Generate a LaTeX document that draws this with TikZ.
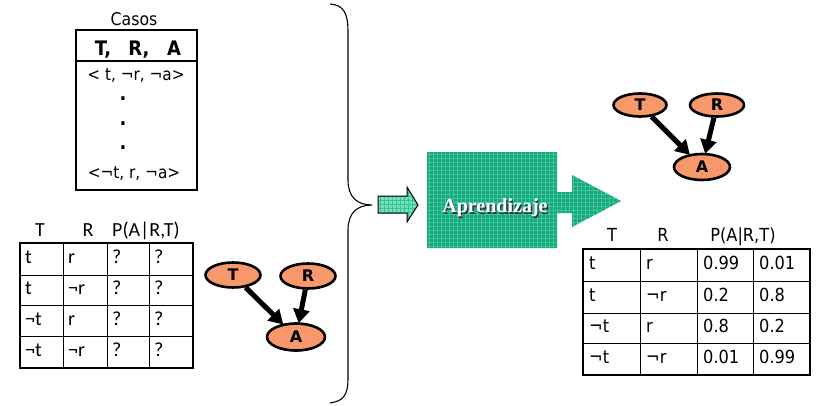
\documentclass[tikz,border=0pt]{standalone}
\usepackage{fontspec}
\setmainfont{DejaVu Sans Condensed}
\newfontfamily\calfont{Carlito}
\newfontfamily\titlefont{Liberation Serif}
\newfontfamily\widefont{DejaVu Sans}
\usetikzlibrary{shapes.geometric,arrows.meta}
\definecolor{nodefill}{RGB}{247,152,108}
\definecolor{boxteal}{RGB}{24,168,126}
\definecolor{boxgrid}{RGB}{62,196,156}
\definecolor{mint}{RGB}{110,228,184}
\definecolor{mintgrid}{RGB}{64,190,148}
\tikzset{
  var/.style={ellipse, draw, line width=2.6pt, fill=nodefill, minimum width=55pt,
    minimum height=25pt, inner sep=0pt, font=\widefont\fontsize{16}{18}\selectfont\bfseries},
  dep/.style={line width=5pt, -{Triangle[length=14pt,width=16pt]}, shorten >=-1pt},
  lcell/.style={anchor=west, inner sep=0pt, text height=13pt, text depth=4pt,
    font=\calfont\fontsize{20}{22}\selectfont},
  rcell/.style={anchor=west, inner sep=0pt, text height=13pt, text depth=4pt,
    font=\fontsize{18}{20}\selectfont},
  casetxt/.style={inner sep=0pt, font=\fontsize{17}{19}\selectfont},
  headtxt/.style={inner sep=0pt, font=\fontsize{20}{22}\selectfont\bfseries},
}
\begin{document}
\begin{tikzpicture}[x=1pt,y=-1pt]
\useasboundingbox (0,0) rectangle (820,405);
\fill[white] (0,0) rectangle (820,405);

% ---- table of cases ----
\node[casetxt, font=\fontsize{17.5}{19}\selectfont] (casos) at (134,19) {Casos};
\draw[line width=1.4pt] (76,30) rectangle (197,190);
\draw[line width=1.1pt] (76,61) -- (197,61);
\node[headtxt, anchor=base] (hT) at (103,55) {T,};
\node[headtxt, anchor=base] (hR) at (139,55) {R,};
\node[headtxt, anchor=base] (hA) at (174,55) {A};
\node[casetxt] (c1) at (136,76) {< t, ¬r, ¬a>};
\node[headtxt] (d1) at (123,99) {.};
\node[headtxt] (d2) at (123,124) {.};
\node[headtxt] (d3) at (123,148) {.};
\node[casetxt] (c2) at (134,174) {<¬t, r, ¬a>};

% ---- empty CPT (left) ----
\node[lcell, anchor=center] (lhT) at (40,232) {T};
\node[lcell, anchor=center] (lhR) at (88,232) {R};
\node[lcell, anchor=center] (lhP) at (146,232) {P(A|R,T)};
\draw[line width=0.9pt] (63,243) -- (63,368) (107,243) -- (107,368) (149,243) -- (149,368)
  (20,275) -- (193,275) (20,305) -- (193,305) (20,336) -- (193,336);
\draw[line width=2.4pt] (20,243) rectangle (193,368);
\foreach \r/\y/\a/\b in {1/259/t/r, 2/290/t/¬r, 3/320.5/¬t/r, 4/352/¬t/¬r}{
  \node[lcell] (L\r a) at (25,\y) {\a};
  \node[lcell] (L\r b) at (68,\y) {\b};
  \node[lcell] (L\r c) at (112,\y) {?};
  \node[lcell] (L\r d) at (154,\y) {?};
}

% ---- network before learning ----
\node[var] (T1) at (233,275) {T};
\node[var] (R1) at (308,276) {R};
\node[var, minimum width=58pt, minimum height=27pt] (A1) at (296,337) {A};
\draw[dep] (T1) -- (A1);
\draw[dep] (R1) -- (A1);

% ---- brace ----
\draw[line width=1.1pt] (330,4) .. controls (343,5) and (348,12) .. (348,32)
  -- (348,180) .. controls (348,197) and (357,205) .. (372,205)
  .. controls (357,205) and (348,213) .. (348,230)
  -- (348,378) .. controls (348,396) and (343,401) .. (330,403);

% ---- small input arrow ----
\fill[mint] (378,196) -- (407,196) -- (407,187) -- (418,205) -- (407,222)
  -- (407,213) -- (378,213) -- cycle;
\begin{scope}
  \clip (378,196) -- (407,196) -- (407,187) -- (418,205) -- (407,222)
    -- (407,213) -- (378,213) -- cycle;
  \foreach \gx in {380,384,...,416} \draw[mintgrid, line width=0.5pt] (\gx,184) -- (\gx,224);
  \foreach \gy in {188,192,...,220} \draw[mintgrid, line width=0.5pt] (376,\gy) -- (420,\gy);
\end{scope}
\draw[line width=1pt] (378,196) -- (407,196) -- (407,187) -- (418,205) -- (407,222)
  -- (407,213) -- (378,213) -- cycle;

% ---- learning block ----
\fill[boxteal] (427,152) -- (557,152) -- (557,192) -- (572,192) -- (572,175)
  -- (621,201) -- (572,227) -- (572,213) -- (557,213) -- (557,248) -- (427,248) -- cycle;
\begin{scope}
  \clip (427,152) -- (557,152) -- (557,192) -- (572,192) -- (572,175)
    -- (621,201) -- (572,227) -- (572,213) -- (557,213) -- (557,248) -- (427,248) -- cycle;
  \foreach \gx in {429,433,...,621} \draw[boxgrid, line width=0.5pt] (\gx,150) -- (\gx,250);
  \foreach \gy in {154,158,...,248} \draw[boxgrid, line width=0.5pt] (425,\gy) -- (623,\gy);
\end{scope}
\node[inner sep=0pt, font=\titlefont\fontsize{20}{22}\selectfont\bfseries, text=black!80]
  (apsh) at (496.3,209.3) {Aprendizaje};
\node[inner sep=0pt, font=\titlefont\fontsize{20}{22}\selectfont\bfseries, text=white]
  (ap) at (495,208) {Aprendizaje};

% ---- network after learning ----
\node[var, minimum width=53pt, minimum height=23pt] (T2) at (640,105) {T};
\node[var, minimum width=54pt, minimum height=23pt] (R2) at (717,105) {R};
\node[var, minimum width=56pt, minimum height=26pt] (A2) at (702,167) {A};
\draw[dep] (T2) -- (A2);
\draw[dep] (R2) -- (A2);

% ---- learned CPT (right) ----
\node[rcell, anchor=center] (rhT) at (612,237) {T};
\node[rcell, anchor=center] (rhR) at (663,237) {R};
\node[rcell, anchor=center] (rhP) at (743,237) {P(A|R,T)};
\draw[line width=0.9pt] (640,249) -- (640,375) (697,249) -- (697,375) (753,249) -- (753,375)
  (583,281) -- (810,281) (583,313) -- (810,313) (583,343) -- (810,343);
\draw[line width=2.4pt] (583,249) rectangle (810,375);
\foreach \r/\y/\a/\b/\p/\q in {1/265/t/r/0.99/0.01, 2/297/t/¬r/0.2/0.8,
    3/328/¬t/r/0.8/0.2, 4/359/¬t/¬r/0.01/0.99}{
  \node[rcell] (R\r a) at (589,\y) {\a};
  \node[rcell] (R\r b) at (646,\y) {\b};
  \node[rcell] (R\r c) at (703,\y) {\p};
  \node[rcell] (R\r d) at (759,\y) {\q};
}
\end{tikzpicture}
\end{document}
